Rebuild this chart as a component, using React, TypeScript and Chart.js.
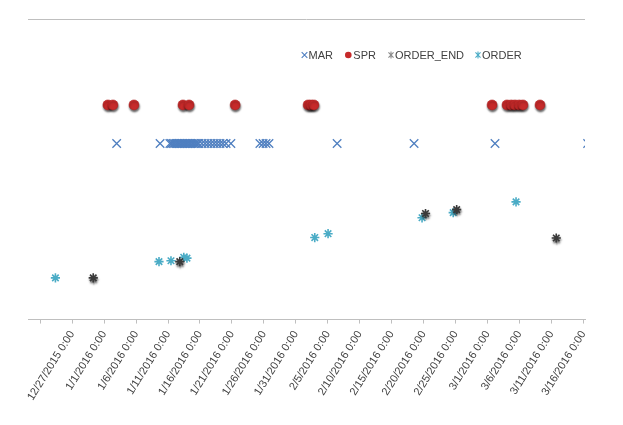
import React, { useEffect, useRef } from 'react';
import { Chart, registerables } from 'chart.js';

Chart.register(...registerables);

// ---------- data (dates as "YYYY-MM-DD HH:mm") ----------
const MAR_DATES = [
  '2016-01-02 23:00', '2016-01-09 18:00',
  '2016-01-11 07:00', '2016-01-11 13:00', '2016-01-11 19:00', '2016-01-12 01:00',
  '2016-01-12 07:00', '2016-01-12 13:00', '2016-01-12 19:00', '2016-01-13 01:00',
  '2016-01-13 07:00', '2016-01-13 13:00', '2016-01-13 19:00', '2016-01-14 01:00',
  '2016-01-14 07:00', '2016-01-14 13:00', '2016-01-14 19:00', '2016-01-15 01:00',
  '2016-01-15 07:00', '2016-01-15 13:00', '2016-01-15 19:00',
  '2016-01-16 07:00', '2016-01-16 19:00', '2016-01-17 06:00', '2016-01-17 17:00',
  '2016-01-18 05:00', '2016-01-18 16:00', '2016-01-19 03:00', '2016-01-19 14:00',
  '2016-01-20 02:00', '2016-01-20 20:00',
  '2016-01-25 09:00', '2016-01-25 21:00', '2016-01-26 08:00', '2016-01-26 19:00',
  '2016-02-06 11:00', '2016-02-18 12:00', '2016-03-02 04:00', '2016-03-16 16:00',
];
const MAR_LEVEL = 4.1;

const SPR_DATES = [
  '2016-01-01 14:00', '2016-01-02 09:00', '2016-01-05 16:00',
  '2016-01-13 08:00', '2016-01-14 07:00', '2016-01-21 12:00',
  '2016-02-01 22:00', '2016-02-02 09:00', '2016-02-02 20:00',
  '2016-03-01 17:00', '2016-03-04 01:00', '2016-03-04 17:00', '2016-03-05 07:00',
  '2016-03-05 23:00', '2016-03-06 13:00', '2016-03-09 05:00',
];
const SPR_LEVEL = 5.0;

const ORDER_END_DATES = [
  '2015-12-30 07:00', '2016-01-12 20:00', '2016-02-20 07:00', '2016-02-25 04:00', '2016-03-11 18:00',
];
const ORDER_END_VALUES = [0.97, 1.35, 2.47, 2.56, 1.9];

const ORDER_DATES = [
  '2015-12-24 09:00', '2016-01-09 14:00', '2016-01-11 11:00', '2016-01-13 11:00', '2016-01-13 23:00',
  '2016-02-02 23:00', '2016-02-05 01:00', '2016-02-19 18:00', '2016-02-24 15:00', '2016-03-05 11:00',
];
const ORDER_VALUES = [0.97, 1.35, 1.37, 1.45, 1.43, 1.91, 2.0, 2.37, 2.49, 2.74];

const TICK_DATES = [
  '2015-12-22', '2015-12-27', '2016-01-01', '2016-01-06', '2016-01-11', '2016-01-16',
  '2016-01-21', '2016-01-26', '2016-01-31', '2016-02-05', '2016-02-10', '2016-02-15',
  '2016-02-20', '2016-02-25', '2016-03-01', '2016-03-06', '2016-03-11', '2016-03-16',
];
const TICK_LABELS = [
  '', '12/27/2015 0:00', '1/1/2016 0:00', '1/6/2016 0:00', '1/11/2016 0:00', '1/16/2016 0:00',
  '1/21/2016 0:00', '1/26/2016 0:00', '1/31/2016 0:00', '2/5/2016 0:00', '2/10/2016 0:00',
  '2/15/2016 0:00', '2/20/2016 0:00', '2/25/2016 0:00', '3/1/2016 0:00', '3/6/2016 0:00',
  '3/11/2016 0:00', '3/16/2016 0:00',
];
const X_MIN = '2015-12-20 02:00';
const X_MAX = '2016-03-16 06:00';
const Y_MIN = 0;
const Y_MAX = 7;

const SERIES_NAMES = ['MAR', 'SPR', 'ORDER_END', 'ORDER'];

// ---------- helpers ----------
function toDay(s: string): number {
  const [d, t] = s.split(' ');
  const [Y, M, D] = d.split('-').map(Number);
  let h = 0;
  let mi = 0;
  if (t) {
    const p = t.split(':').map(Number);
    h = p[0];
    mi = p[1] || 0;
  }
  return Date.UTC(Y, M - 1, D, h, mi) / 86400000;
}

const FONT = "'Liberation Sans', Arial, sans-serif";
const MAR_COLOR = '#4f7fc0';
const SPR_COLOR = '#c62a2a';
const ORDER_END_COLOR = '#3a3a3a';
const ORDER_COLOR = '#4bacc6';

const shadowPlugin = {
  id: 'markerShadow',
  beforeDatasetDraw(chart: any, args: any) {
    const ds = chart.data.datasets[args.index];
    if (ds.shadow) {
      const ctx = chart.ctx;
      ctx.save();
      ctx.shadowColor = 'rgba(0,0,0,0.6)';
      ctx.shadowBlur = 2;
      ctx.shadowOffsetX = 0.5;
      ctx.shadowOffsetY = 2;
    }
  },
  afterDatasetDraw(chart: any, args: any) {
    const ds = chart.data.datasets[args.index];
    if (ds.shadow) chart.ctx.restore();
  },
};

function drawMarker(ctx: CanvasRenderingContext2D, style: string, x: number, y: number, r: number, color: string) {
  ctx.save();
  ctx.strokeStyle = color;
  ctx.fillStyle = color;
  ctx.lineWidth = 1.1;
  ctx.beginPath();
  if (style === 'circle') {
    ctx.arc(x, y, r, 0, Math.PI * 2);
    ctx.fill();
  } else {
    const d = r * Math.SQRT1_2;
    ctx.moveTo(x - d, y - d);
    ctx.lineTo(x + d, y + d);
    ctx.moveTo(x - d, y + d);
    ctx.lineTo(x + d, y - d);
    if (style === 'star') {
      ctx.moveTo(x, y - r);
      ctx.lineTo(x, y + r);
    }
    ctx.stroke();
  }
  ctx.restore();
}

const legendPlugin = {
  id: 'excelLegend',
  afterDraw(chart: any) {
    const ctx = chart.ctx as CanvasRenderingContext2D;
    const y = 47;
    const items = [
      { style: 'crossRot', color: MAR_COLOR, mx: 296.5, tx: 300.5, r: 4 },
      { style: 'circle', color: SPR_COLOR, mx: 340.3, tx: 345.3, r: 3.3 },
      { style: 'star', color: '#8a8a8a', mx: 383, tx: 387, r: 3.6 },
      { style: 'star', color: ORDER_COLOR, mx: 470, tx: 474, r: 3.6 },
    ];
    ctx.save();
    ctx.font = `11px ${FONT}`;
    ctx.textBaseline = 'middle';
    ctx.textAlign = 'left';
    items.forEach((it, i) => {
      drawMarker(ctx, it.style, it.mx, y, it.r, it.color);
      ctx.fillStyle = '#404040';
      ctx.fillText(SERIES_NAMES[i], it.tx, y + 0.5);
    });
    ctx.restore();
  },
};

export default function App() {
  const canvasRef = useRef<HTMLCanvasElement | null>(null);

  useEffect(() => {
    if (!canvasRef.current) return;
    const tickValues = TICK_DATES.map(toDay);
    const chart = new Chart(canvasRef.current, {
      type: 'scatter',
      data: {
        datasets: [
          {
            label: SERIES_NAMES[0],
            data: MAR_DATES.map((d) => ({ x: toDay(d), y: MAR_LEVEL })),
            pointStyle: 'crossRot',
            pointRadius: 6,
            borderColor: MAR_COLOR,
            backgroundColor: MAR_COLOR,
            pointBorderWidth: 1.3,
            order: 4,
          },
          {
            label: SERIES_NAMES[1],
            data: SPR_DATES.map((d) => ({ x: toDay(d), y: SPR_LEVEL })),
            pointStyle: 'circle',
            pointRadius: 5,
            borderColor: '#b02020',
            backgroundColor: SPR_COLOR,
            pointBorderWidth: 0.5,
            shadow: true,
            order: 3,
          } as any,
          {
            label: SERIES_NAMES[2],
            data: ORDER_END_DATES.map((d, i) => ({ x: toDay(d), y: ORDER_END_VALUES[i] })),
            pointStyle: 'star',
            pointRadius: 4.6,
            borderColor: ORDER_END_COLOR,
            backgroundColor: ORDER_END_COLOR,
            pointBorderWidth: 1.6,
            shadow: true,
            order: 1,
          } as any,
          {
            label: SERIES_NAMES[3],
            data: ORDER_DATES.map((d, i) => ({ x: toDay(d), y: ORDER_VALUES[i] })),
            pointStyle: 'star',
            pointRadius: 4.6,
            borderColor: ORDER_COLOR,
            backgroundColor: ORDER_COLOR,
            pointBorderWidth: 1.6,
            order: 2,
          },
        ],
      },
      options: {
        animation: false,
        responsive: true,
        maintainAspectRatio: false,
        layout: { padding: { left: 20, right: 30, top: 11, bottom: 9 } },
        plugins: {
          legend: { display: false },
          tooltip: { enabled: false },
          title: { display: false },
        },
        scales: {
          x: {
            type: 'linear',
            min: toDay(X_MIN),
            max: toDay(X_MAX),
            afterBuildTicks: (scale: any) => {
              scale.ticks = tickValues.map((v) => ({ value: v }));
            },
            ticks: {
              autoSkip: false,
              minRotation: 58,
              maxRotation: 58,
              padding: 5,
              color: '#404040',
              font: { family: FONT, size: 11 },
              callback: (_v: any, i: number) => TICK_LABELS[i],
            },
            grid: {
              display: true,
              drawOnChartArea: false,
              drawTicks: true,
              tickLength: 4,
              color: '#bfbfbf',
            },
            border: { display: true, color: '#bfbfbf', width: 1 },
          },
          y: {
            type: 'linear',
            min: Y_MIN,
            max: Y_MAX,
            afterBuildTicks: (scale: any) => {
              scale.ticks = [{ value: Y_MIN }, { value: Y_MAX }];
            },
            ticks: { display: false },
            grid: {
              drawTicks: false,
              color: (ctx: any) => (ctx.tick && ctx.tick.value === Y_MAX ? '#bfbfbf' : 'rgba(0,0,0,0)'),
              lineWidth: 1,
            },
            border: { display: false },
          },
        },
      },
      plugins: [shadowPlugin, legendPlugin],
    });
    return () => chart.destroy();
  }, []);

  return (
    <div style={{ position: 'relative', width: 607, height: 409 }}>
      <canvas ref={canvasRef} />
    </div>
  );
}
